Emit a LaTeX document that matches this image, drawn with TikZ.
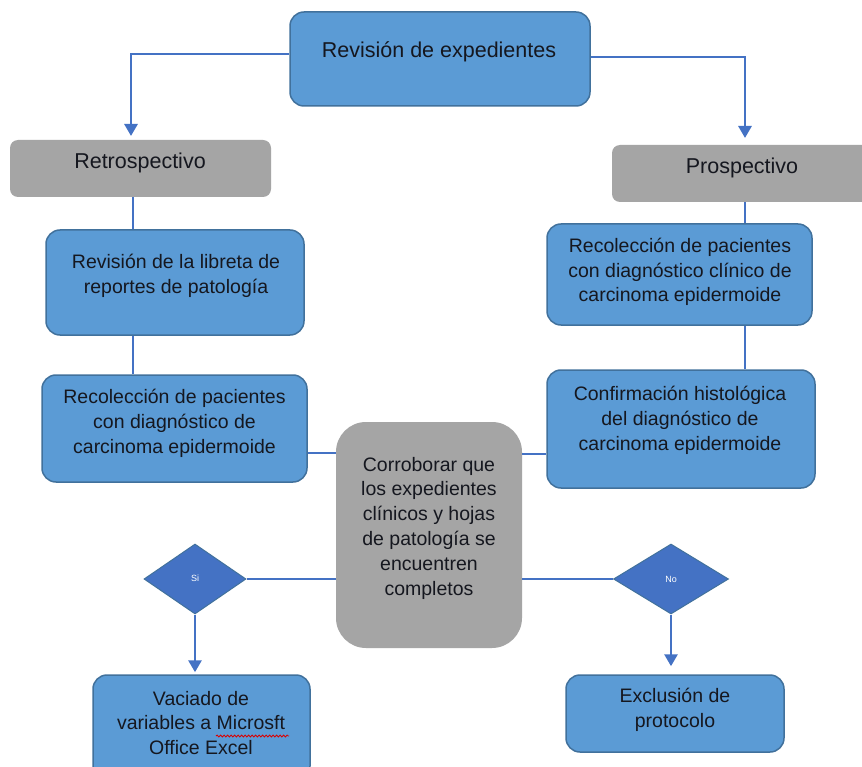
\documentclass[tikz,border=0pt]{standalone}
\usepackage{fontspec}
\setmainfont{Liberation Sans}
\usetikzlibrary{shapes.geometric,arrows.meta,decorations.pathmorphing}
\definecolor{boxblue}{HTML}{5B9BD5}
\definecolor{edgeblue}{HTML}{41719C}
\definecolor{lineblue}{HTML}{4472C4}
\definecolor{boxgray}{HTML}{A5A5A5}
\definecolor{diablue}{HTML}{4472C4}
\definecolor{inktext}{HTML}{15171F}
\begin{document}
\begin{tikzpicture}[x=1pt,y=-1pt,
  bluebox/.style={draw=edgeblue, line width=1.5pt, fill=boxblue, rounded corners=14pt, inner sep=0pt},
  graybox/.style={fill=boxgray, rounded corners=8pt, inner sep=0pt},
  bigbox/.style={fill=boxgray, rounded corners=30pt, inner sep=0pt},
  txt/.style={font=\fontsize{19.5}{24.8}\selectfont, align=center, text=inktext, inner sep=0pt},
  bigtxt/.style={txt, font=\fontsize{21.5}{25}\selectfont},
  conn/.style={draw=lineblue, line width=2.8pt},
  arr/.style={conn, -{Triangle[length=12pt,width=13pt]}},
  decision/.style={diamond, fill=diablue, draw=edgeblue, line width=1pt, inner sep=0pt},
  dtxt/.style={font=\fontsize{9}{10}\selectfont, text=white, inner sep=0pt}]
\useasboundingbox (0,0) rectangle (862,767);
\clip (0,0) rectangle (862,767);
\fill[white] (0,0) rectangle (862,767);

% boxes
\node[bluebox, minimum width=300, minimum height=94] (top) at (440,59) {};
\node[bigtxt] (toptxt) at (439,52) {Revisión de expedientes};

\node[graybox, minimum width=261, minimum height=57] (retro) at (140.5,168.5) {};
\node[bigtxt] (retrotxt) at (140,163) {Retrospectivo};

\node[graybox, minimum width=268, minimum height=57] (prosp) at (746,173.5) {};
\node[bigtxt] (prosptxt) at (742,168) {Prospectivo};

\node[bluebox, minimum width=258, minimum height=105] (rev) at (175,282.5) {};
\node[txt] (revtxt) at (176,276) {Revisión de la libreta de\\reportes de patología};

\node[bluebox, minimum width=265, minimum height=107] (recol) at (174.5,428.5) {};
\node[txt] (recoltxt) at (174.5,423.5) {Recolección de pacientes\\con diagnóstico de\\carcinoma epidermoide};

\node[bluebox, minimum width=265, minimum height=101] (recclin) at (679.5,274.5) {};
\node[txt] (recclintxt) at (680,272) {Recolección de pacientes\\con diagnóstico clínico de\\carcinoma epidermoide};

\node[bluebox, minimum width=268, minimum height=118] (confirm) at (681,429) {};
\node[txt] (confirmtxt) at (680,420.5) {Confirmación histológica\\del diagnóstico de\\carcinoma epidermoide};

\node[bigbox, minimum width=186, minimum height=226] (corr) at (429,535) {};
\node[txt] (corrtxt) at (429,528) {Corroborar que\\los expedientes\\clínicos y hojas\\de patología se\\encuentren\\completos};

\node[decision, minimum width=102, minimum height=70] (si) at (195,579) {};
\node[dtxt] (sitxt) at (195,578) {Si};
\node[decision, minimum width=115, minimum height=70] (no) at (671,579) {};
\node[dtxt] (notxt) at (671,579) {No};

\node[bluebox, minimum width=217, minimum height=105] (vac) at (201.5,727.5) {};
\node[txt] (vactxt) at (201,723) {Vaciado de\\variables a Microsft\\Office Excel};
\node[bluebox, minimum width=218, minimum height=77] (excl) at (675,713.5) {};
\node[txt] (excltxt) at (675,710) {Exclusión de\\protocolo};

% spell-check underline
\coordinate (w1) at (216,736);
\coordinate (w2) at (289,736);
\draw[red!85!black, line width=0.8pt, decorate, decoration={snake, amplitude=1pt, segment length=3.5pt}] (w1) -- (w2);

% helper coordinates
\coordinate (c1) at (133,0);
\coordinate (c2) at (745,0);
\coordinate (c3) at (0,453);
\coordinate (c4) at (0,454);
\coordinate (la) at (131,136);
\coordinate (ra) at (745,138);

% connectors
\draw[arr] ([yshift=5pt]top.west) -| (la);
\draw[arr] ([yshift=2pt]top.east) -| (ra);
\draw[conn] (retro.south -| c1) -- (rev.north -| c1);
\draw[conn] (rev.south -| c1) -- (recol.north -| c1);
\draw[conn] (prosp.south -| c2) -- (recclin.north -| c2);
\draw[conn] (recclin.south -| c2) -- (confirm.north -| c2);
\draw[conn] (recol.east |- c3) -- (corr.west |- c3);
\draw[conn] (corr.east |- c4) -- (confirm.west |- c4);
\draw[conn] (si.east) -- (corr.west |- si.east);
\draw[conn] (corr.east |- no.west) -- (no.west);
\draw[arr, shorten >=2pt] (si.south) -- (si.south |- vac.north);
\draw[arr, shorten >=8pt] (no.south) -- (no.south |- excl.north);
\end{tikzpicture}
\end{document}
